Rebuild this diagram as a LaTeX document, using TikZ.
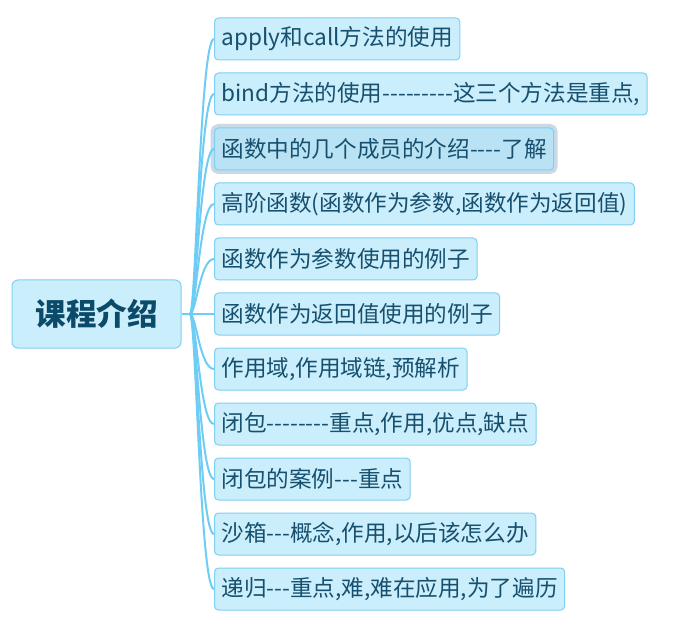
\documentclass[tikz,border=0pt]{standalone}
\usepackage{fontspec}
\newfontfamily\cjk{Noto Sans CJK SC}
\usetikzlibrary{positioning}

\definecolor{boxfill}{HTML}{CAEEFC}
\definecolor{boxline}{HTML}{7FD0F2}
\definecolor{selfill}{HTML}{B9E3F4}
\definecolor{selglow}{HTML}{C9D9E5}
\definecolor{txtblue}{HTML}{17506E}
\definecolor{rootblue}{HTML}{0B4A68}
\definecolor{branch}{HTML}{6DCDF5}

\begin{document}
\begin{tikzpicture}[x=1pt,y=-1pt,
  topic/.style={draw=boxline,fill=boxfill,rounded corners=6pt,line width=1pt,
    font=\cjk\bfseries\fontsize{30.5}{36}\selectfont,text=rootblue,
    minimum width=169pt,minimum height=68pt},
  sub/.style={draw=boxline,fill=boxfill,rounded corners=4pt,line width=1pt,
    font=\cjk\fontsize{22.6}{27}\selectfont,text=txtblue,
    anchor=west,minimum height=42pt,inner xsep=7pt},
  picked/.style={fill=selfill,preaction={draw=selglow,line width=8pt}},
  link/.style={draw=branch,line width=2pt}]
\useasboundingbox (0,0) rectangle (680,628);

\node[topic] (root) at (96.5,314) {课程介绍};
\coordinate (j) at (190,314);

\node[sub] (c1) at (214,39) {apply和call方法的使用};
\node[sub] (c2) at (214,94) {bind方法的使用---------这三个方法是重点,};
\node[sub,picked] (c3) at (214,149) {函数中的几个成员的介绍----了解};
\node[sub] (c4) at (214,204) {高阶函数(函数作为参数,函数作为返回值)};
\node[sub] (c5) at (214,259) {函数作为参数使用的例子};
\node[sub] (c6) at (214,314) {函数作为返回值使用的例子};
\node[sub] (c7) at (214,369) {作用域,作用域链,预解析};
\node[sub] (c8) at (214,424) {闭包--------重点,作用,优点,缺点};
\node[sub] (c9) at (214,479) {闭包的案例---重点};
\node[sub] (c10) at (214,534) {沙箱---概念,作用,以后该怎么办};
\node[sub] (c11) at (214,589) {递归---重点,难,难在应用,为了遍历};

% branches from the central topic
\draw[link] (root.east) -- (j);
\draw[link] (j) -- (c6.west);
\draw[link] (j) .. controls +(6,0) and +(-14,0) .. (c1.west);
\draw[link] (j) .. controls +(6,0) and +(-14,0) .. (c2.west);
\draw[link] (j) .. controls +(6,0) and +(-14,0) .. (c3.west);
\draw[link] (j) .. controls +(6,0) and +(-14,0) .. (c4.west);
\draw[link] (j) .. controls +(6,0) and +(-14,0) .. (c5.west);
\draw[link] (j) .. controls +(6,0) and +(-14,0) .. (c7.west);
\draw[link] (j) .. controls +(6,0) and +(-14,0) .. (c8.west);
\draw[link] (j) .. controls +(6,0) and +(-14,0) .. (c9.west);
\draw[link] (j) .. controls +(6,0) and +(-14,0) .. (c10.west);
\draw[link] (j) .. controls +(6,0) and +(-14,0) .. (c11.west);
\end{tikzpicture}
\end{document}
